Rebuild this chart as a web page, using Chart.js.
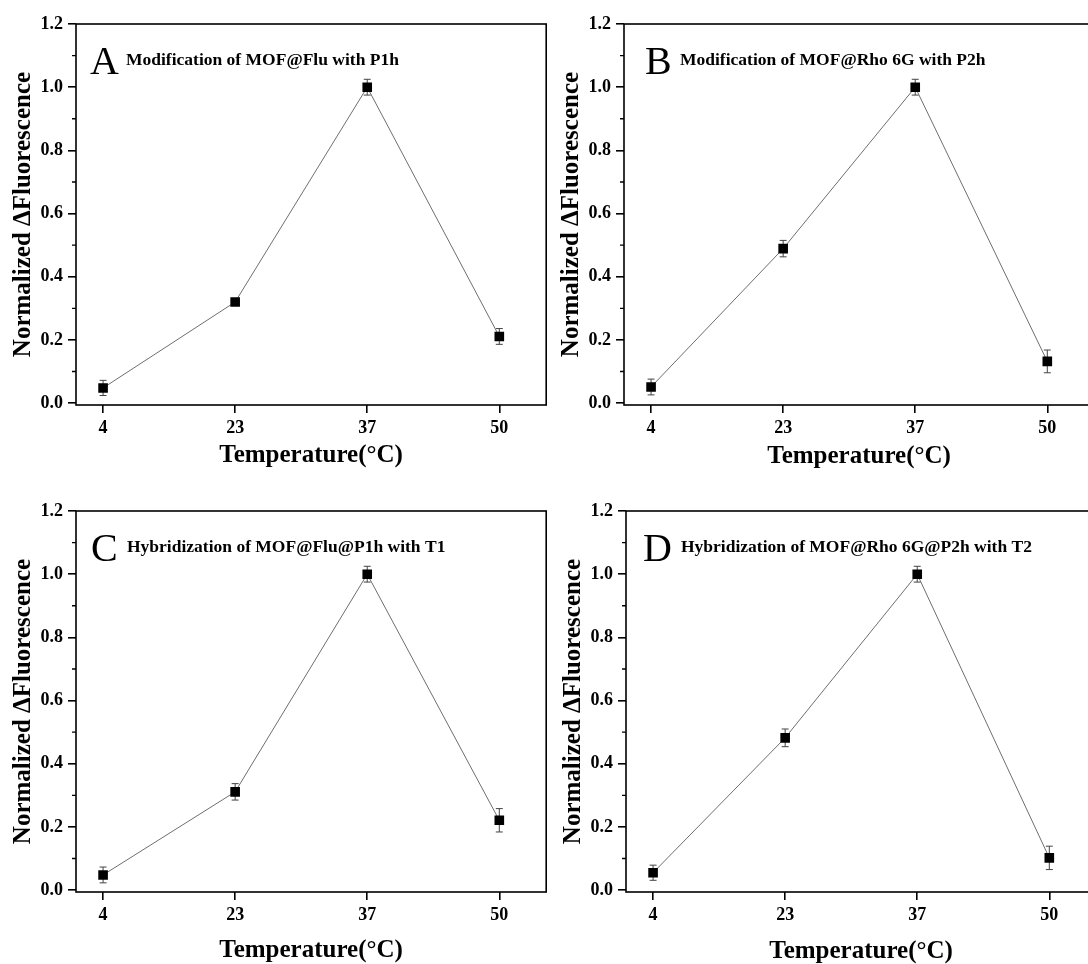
<!DOCTYPE html>
<html>
<head>
<meta charset="utf-8">
<script src="https://cdn.jsdelivr.net/npm/chart.js@4.4.1/dist/chart.umd.min.js"></script>
<style>
  html, body { margin: 0; padding: 0; background: #fff; overflow: hidden; }
  #page { position: relative; width: 1088px; height: 964px; overflow: hidden; }
  canvas { position: absolute; }
</style>
</head>
<body>
<div id="page">
  <canvas id="panelA" width="553" height="480" style="left:0px;top:0px"></canvas>
  <canvas id="panelB" width="553" height="480" style="left:548px;top:0px"></canvas>
  <canvas id="panelC" width="553" height="480" style="left:0px;top:487px"></canvas>
  <canvas id="panelD" width="553" height="480" style="left:550px;top:487px"></canvas>
</div>
<script>
const temperatures = ['4', '23', '37', '50'];
const yTickValues = [0, 0.2, 0.4, 0.6, 0.8, 1.0, 1.2];
const yMinorValues = [0.1, 0.3, 0.5, 0.7, 0.9, 1.1];

// normalized delta fluorescence (mean, error) per temperature
const modFluMean = [0.048, 0.32, 1.0, 0.211];
const modFluErr = [0.024, 0.01, 0.025, 0.025];
const modRhoMean = [0.051, 0.489, 1.0, 0.132];
const modRhoErr = [0.025, 0.026, 0.025, 0.036];
const hybFluMean = [0.048, 0.311, 1.0, 0.221];
const hybFluErr = [0.025, 0.026, 0.025, 0.037];
const hybRhoMean = [0.055, 0.482, 1.0, 0.102];
const hybRhoErr = [0.024, 0.028, 0.025, 0.037];

const panelLetters = ['A', 'B', 'C', 'D'];
const panelTitles = [
  'Modification of MOF@Flu with P1h',
  'Modification of MOF@Rho 6G with P2h',
  'Hybridization of MOF@Flu@P1h with T1',
  'Hybridization of MOF@Rho 6G@P2h with T2'
];

const SERIF = '"Liberation Serif", "Times New Roman", serif';

// error bars + minor ticks + frame + panel label
const panelDecor = {
  id: 'panelDecor',
  beforeDatasetsDraw(chart, args, opts) {
    const { ctx } = chart;
    const xs = chart.scales.x, ys = chart.scales.y;
    ctx.save();
    ctx.strokeStyle = '#444';
    ctx.lineWidth = 1;
    opts.means.forEach((m, i) => {
      const px = xs.getPixelForValue(i);
      const hi = ys.getPixelForValue(m + opts.errors[i]);
      const lo = ys.getPixelForValue(m - opts.errors[i]);
      ctx.beginPath();
      ctx.moveTo(px, hi); ctx.lineTo(px, lo);
      ctx.moveTo(px - 3.5, hi); ctx.lineTo(px + 3.5, hi);
      ctx.moveTo(px - 3.5, lo); ctx.lineTo(px + 3.5, lo);
      ctx.stroke();
    });
    ctx.restore();
  },
  afterDraw(chart, args, opts) {
    const { ctx, chartArea: a } = chart;
    const ys = chart.scales.y;
    ctx.save();
    ctx.strokeStyle = '#000';
    ctx.lineWidth = 1.6;
    ctx.strokeRect(a.left, a.top, a.right - a.left, a.bottom - a.top);
    ctx.lineWidth = 1.4;
    ctx.beginPath();
    yMinorValues.forEach(v => {
      const py = ys.getPixelForValue(v);
      ctx.moveTo(a.left - 4, py); ctx.lineTo(a.left, py);
    });
    ctx.stroke();

    ctx.fillStyle = '#000';
    ctx.textBaseline = 'alphabetic';
    ctx.font = '40px ' + SERIF;
    ctx.fillText(opts.letter, a.left + opts.letterDx, a.top + 49.5);
    ctx.font = 'bold 17.5px ' + SERIF;
    ctx.fillText(opts.title, a.left + opts.titleDx, a.top + 41);
    ctx.restore();
  }
};

function makePanel(id, idx, means, errors, letterDx, titleDx, xTitlePad) {
  new Chart(document.getElementById(id), {
    type: 'line',
    data: {
      datasets: [{
        data: means.map((v, i) => ({ x: i, y: v })),
        borderColor: '#6e6e6e',
        borderWidth: 1,
        pointStyle: 'rect',
        pointRadius: 6.8,
        pointBorderWidth: 0,
        pointBackgroundColor: '#000',
        tension: 0
      }]
    },
    options: {
      responsive: false,
      animation: false,
      layout: { padding: { top: 24, right: 6, left: 0, bottom: 0 } },
      plugins: {
        legend: { display: false },
        tooltip: { enabled: false },
        panelDecor: {
          means: means, errors: errors,
          letter: panelLetters[idx], title: panelTitles[idx],
          letterDx: letterDx, titleDx: titleDx
        }
      },
      scales: {
        x: {
          type: 'linear',
          min: -0.205,
          max: 3.355,
          afterBuildTicks: s => { s.ticks = temperatures.map((t, i) => ({ value: i })); },
          afterFit: s => { s.height = 75; },
          border: { display: false },
          grid: { drawOnChartArea: false, tickLength: 8, color: '#000', lineWidth: 1.6 },
          ticks: {
            padding: 5,
            color: '#000',
            font: { family: SERIF, size: 18, weight: 'bold' },
            callback: v => temperatures[v]
          },
          title: {
            display: true,
            text: 'Temperature(°C)',
            color: '#000',
            font: { family: SERIF, size: 25, weight: 'bold', lineHeight: 1.2 },
            padding: { top: 0, bottom: xTitlePad }
          }
        },
        y: {
          min: -0.006,
          max: 1.2,
          afterBuildTicks: s => { s.ticks = yTickValues.map(v => ({ value: v })); },
          afterFit: s => { s.width = 76; },
          border: { display: false },
          grid: { drawOnChartArea: false, tickLength: 8, color: '#000', lineWidth: 1.6 },
          ticks: {
            padding: 5,
            color: '#000',
            font: { family: SERIF, size: 18, weight: 'bold' },
            callback: v => v.toFixed(1)
          },
          title: {
            display: true,
            text: 'Normalized ΔFluorescence',
            color: '#000',
            font: { family: SERIF, size: 25, weight: 'bold', lineHeight: 1.2 },
            padding: { top: 9, bottom: 0 }
          }
        }
      }
    },
    plugins: [panelDecor]
  });
}

makePanel('panelA', 0, modFluMean, modFluErr, 14, 50, 9);
makePanel('panelB', 1, modRhoMean, modRhoErr, 21, 56, 8);
makePanel('panelC', 2, hybFluMean, hybFluErr, 15, 51, 1);
makePanel('panelD', 3, hybRhoMean, hybRhoErr, 17, 55, 0);
</script>
</body>
</html>
